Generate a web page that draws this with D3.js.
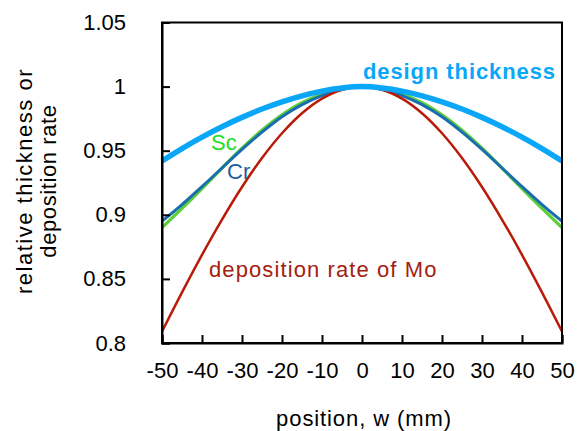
<!DOCTYPE html>
<html>
<head>
<meta charset="utf-8">
<script src="https://cdn.jsdelivr.net/npm/d3@7"></script>
<style>
  html, body { margin: 0; padding: 0; background: #fff; }
  svg { display: block; font-family: "Liberation Sans", Arial, Helvetica, sans-serif; }
</style>
</head>
<body>
<svg id="chart" width="578" height="431"></svg>
<script>
// ---- data ----
const positions = [-50,-45,-40,-35,-30,-25,-20,-15,-10,-5,0,5,10,15,20,25,30,35,40,45,50];
const designThickness = [0.942,0.9517,0.9606,0.9687,0.976,0.9825,0.9881,0.9928,0.9965,0.9989,1.0,0.9989,0.9965,0.9928,0.9881,0.9825,0.976,0.9687,0.9606,0.9517,0.942];
const crRate = [0.895,0.908,0.922,0.9365,0.951,0.9645,0.9765,0.986,0.993,0.998,1.0,0.998,0.993,0.986,0.9765,0.9645,0.951,0.9365,0.922,0.908,0.895];
const scRate = [0.890,0.905,0.9205,0.9365,0.952,0.966,0.978,0.9875,0.994,0.9985,1.0,0.9985,0.994,0.9875,0.978,0.966,0.952,0.9365,0.9205,0.905,0.890];
const moRate = [0.809,0.8395,0.8688,0.8963,0.9217,0.9443,0.9636,0.9792,0.9906,0.9976,1.0,0.9976,0.9906,0.9792,0.9636,0.9443,0.9217,0.8963,0.8688,0.8395,0.809];
const xTicks = [-50,-40,-30,-20,-10,0,10,20,30,40,50];
const yTicks = [0.8,0.85,0.9,0.95,1.0,1.05];
const yTickLabels = ["0.8","0.85","0.9","0.95","1","1.05"];

const svg = d3.select("#chart");
const x = d3.scaleLinear().domain([-50, 50]).range([162, 562]);
const y = d3.scaleLinear().domain([0.8, 1.05]).range([343, 22.5]);

const fs = 22;

// curves
const lineC = vals => d3.line()
  .x((d, i) => x(positions[i]))
  .y(d => y(d))
  .curve(d3.curveCatmullRom.alpha(0.5))(vals);

const g = svg.append("g");
g.append("path").attr("d", lineC(scRate)).attr("fill", "none")
  .attr("stroke", "#5ccf36").attr("stroke-width", 3.2);
g.append("path").attr("d", lineC(crRate)).attr("fill", "none")
  .attr("stroke", "#1a6eb0").attr("stroke-width", 3);
g.append("path").attr("d", lineC(moRate)).attr("fill", "none")
  .attr("stroke", "#b81c08").attr("stroke-width", 2.5);
g.append("path").attr("d", lineC(designThickness)).attr("fill", "none")
  .attr("stroke", "#0aa6f7").attr("stroke-width", 5.5);

// frame
svg.append("rect").attr("x", x(-50)).attr("y", y(1.05))
  .attr("width", x(50) - x(-50)).attr("height", y(0.8) - y(1.05))
  .attr("fill", "none").attr("stroke", "#000").attr("stroke-width", 2);

// axes with inward ticks
const xAxis = d3.axisBottom(x).tickValues(xTicks).tickSize(-8).tickPadding(19)
  .tickFormat(d => (d < 0 ? "-" : "") + Math.abs(d));
const xg = svg.append("g").attr("transform", `translate(0,${y(0.8)})`).call(xAxis);
const yAxis = d3.axisLeft(y).tickValues(yTicks).tickSize(-8).tickPadding(36)
  .tickFormat((d, i) => yTickLabels[i]);
const yg = svg.append("g").attr("transform", `translate(${x(-50)},0)`).call(yAxis);
[xg, yg].forEach(ax => {
  ax.select(".domain").attr("stroke", "#000").attr("stroke-width", 2);
  ax.selectAll(".tick line").attr("stroke", "#000").attr("stroke-width", 2);
  ax.selectAll(".tick text").attr("fill", "#000").style("font-size", fs + "px")
    .style("font-family", "'Liberation Sans', Arial, sans-serif");
});

// axis titles
svg.append("text").attr("x", 364).attr("y", 426).attr("text-anchor", "middle")
  .style("font-size", fs + "px").style("letter-spacing", "0.9px").text("position, w (mm)");
const yt = svg.append("g").attr("transform", "translate(0,181)");
yt.append("text").attr("transform", "translate(32,0) rotate(-90)").attr("text-anchor", "middle")
  .style("font-size", fs + "px").style("letter-spacing", "1.5px").text("relative thickness or");
yt.append("text").attr("transform", "translate(56,0) rotate(-90)").attr("text-anchor", "middle")
  .style("font-size", fs + "px").style("letter-spacing", "0.6px").text("deposition rate");

// series labels
svg.append("text").attr("x", 363).attr("y", 79).attr("fill", "#0aa6f7")
  .style("font-size", fs + "px").style("font-weight", "bold").style("letter-spacing", "0.9px")
  .text("design thickness");
svg.append("text").attr("x", 211).attr("y", 150).attr("fill", "#22e01e")
  .style("font-size", fs + "px").text("Sc");
svg.append("text").attr("x", 227).attr("y", 179).attr("fill", "#1a5fa0")
  .style("font-size", fs + "px").text("Cr");
svg.append("text").attr("x", 209).attr("y", 277).attr("fill", "#a3200f")
  .style("font-size", fs + "px").style("letter-spacing", "1.1px").text("deposition rate of Mo");
</script>
</body>
</html>
